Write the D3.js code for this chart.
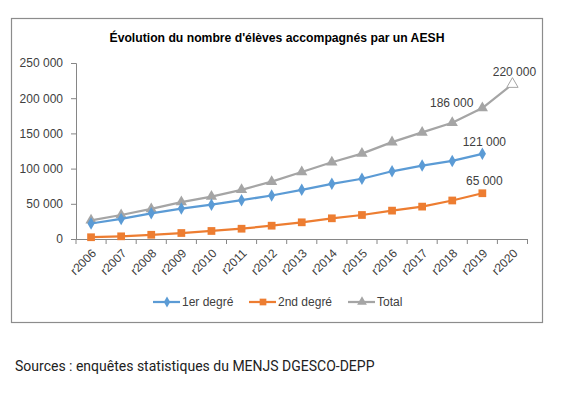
<!DOCTYPE html>
<html>
<head>
<meta charset="utf-8">
<script src="https://cdn.jsdelivr.net/npm/d3@7"></script>
<style>
  body { margin: 0; background: #fff; }
  svg text { font-family: "Liberation Sans", Arial, sans-serif; }
  svg text.source { font-family: Roboto, sans-serif; }
</style>
</head>
<body>
<svg id="chart" width="562" height="393"></svg>
<script>
// données
var years = ["r2006","r2007","r2008","r2009","r2010","r2011","r2012","r2013","r2014","r2015","r2016","r2017","r2018","r2019","r2020"];
var premier = [22000, 28500, 36500, 43300, 48700, 55100, 61800, 69900, 78400, 85600, 96200, 104300, 110900, 121000, null];
var second = [2500, 3800, 6000, 8500, 11400, 14600, 18900, 23700, 29400, 34100, 40300, 46000, 54700, 65000, null];
var total = [26500, 34100, 42700, 52500, 60200, 69900, 81400, 95200, 109000, 121300, 137600, 151400, 165200, 186000, 220000];
var yTicks = [0, 50000, 100000, 150000, 200000, 250000];

var series = [
  {name: "1er degré", values: premier, color: "#5b9bd5", shape: d3.symbolDiamond, size: 45},
  {name: "2nd degré", values: second, color: "#ed7d31", shape: d3.symbolSquare, size: 60},
  {name: "Total", values: total, color: "#a5a5a5", shape: d3.symbolTriangle, size: 55}
];

// étiquettes affichées (index, position)
var labels = [
  {s: 0, i: 13, pos: "above"},
  {s: 1, i: 13, pos: "above"},
  {s: 2, i: 13, pos: "left"},
  {s: 2, i: 14, pos: "above"}
];

var fmt = function(v){ return d3.format(",")(v).replace(/,/g, " "); };

var svg = d3.select("#chart");

svg.append("rect")
  .attr("x", 11.5).attr("y", 18.5)
  .attr("width", 531).attr("height", 304)
  .attr("fill", "#fff").attr("stroke", "#8c8c8c").attr("stroke-width", 1.2);

svg.append("text")
  .attr("x", 277).attr("y", 42)
  .attr("text-anchor", "middle")
  .attr("font-weight", "bold")
  .attr("font-size", 12.2)
  .attr("fill", "#000")
  .text("Évolution du nombre d'élèves accompagnés par un AESH");

var x = d3.scaleBand().domain(years).range([76, 527.5]);
var y = d3.scaleLinear().domain([0, 250000]).range([239, 63]);

// axe Y
var yAxis = svg.append("g")
  .attr("transform", "translate(76,0)")
  .call(d3.axisLeft(y).tickValues(yTicks).tickFormat(fmt).tickSize(5).tickPadding(8));
yAxis.select(".domain").attr("stroke", "#868686");
yAxis.selectAll(".tick line").attr("stroke", "#868686");
yAxis.selectAll(".tick text").attr("font-size", 12).attr("fill", "#404040");

// axe X
var xAxis = svg.append("g")
  .attr("transform", "translate(0,239)")
  .call(d3.axisBottom(x).tickSize(0).tickFormat(""));
xAxis.select(".domain").attr("stroke", "#868686");
xAxis.selectAll(".tick").remove();
xAxis.selectAll("line.sep")
  .data(d3.range(years.length + 1))
  .enter().append("line")
  .attr("x1", function(d){ return x.range()[0] + d * x.bandwidth(); })
  .attr("x2", function(d){ return x.range()[0] + d * x.bandwidth(); })
  .attr("y1", 0).attr("y2", 5)
  .attr("stroke", "#868686");

svg.append("g").selectAll("text")
  .data(years)
  .enter().append("text")
  .attr("transform", function(d){
    return "translate(" + (x(d) + x.bandwidth() / 2 + 3) + ",251) rotate(-45)";
  })
  .attr("text-anchor", "end")
  .attr("dy", "0.35em")
  .attr("font-size", 12)
  .attr("fill", "#404040")
  .text(function(d){ return d; });

var cx = function(i){ return x(years[i]) + x.bandwidth() / 2; };

var line = d3.line()
  .defined(function(d){ return d != null; })
  .x(function(d, i){ return cx(i); })
  .y(function(d){ return y(d); });

series.slice().reverse().forEach(function(s){
  svg.append("path")
    .datum(s.values)
    .attr("fill", "none")
    .attr("stroke", s.color)
    .attr("stroke-width", 2.25)
    .attr("stroke-linejoin", "round")
    .attr("d", line);

  svg.append("g").selectAll("path")
    .data(s.values.map(function(v, i){ return {v: v, i: i}; }).filter(function(d){ return d.v != null; }))
    .enter().append("path")
    .attr("transform", function(d){ return "translate(" + cx(d.i) + "," + y(d.v) + ")"; })
    .attr("d", d3.symbol().type(s.shape).size(s.size))
    .attr("fill", function(d){ return (s.name === "Total" && d.i === 14) ? "#fff" : s.color; })
    .attr("stroke", s.color)
    .attr("stroke-width", function(d){ return (s.name === "Total" && d.i === 14) ? 1 : 0; });
});

// étiquettes de données
svg.append("g").selectAll("text")
  .data(labels)
  .enter().append("text")
  .attr("x", function(d){ return d.pos === "left" ? cx(d.i) - 9 : cx(d.i) + 2; })
  .attr("y", function(d){
    var v = series[d.s].values[d.i];
    return d.pos === "left" ? y(v) - 1 : y(v) - 8;
  })
  .attr("text-anchor", function(d){ return d.pos === "left" ? "end" : "middle"; })
  .attr("font-size", 12)
  .attr("fill", "#404040")
  .text(function(d){ return fmt(series[d.s].values[d.i]); });

// légende
var legendX = [153, 249, 348];
var leg = svg.append("g").selectAll("g")
  .data(series)
  .enter().append("g")
  .attr("transform", function(d, i){ return "translate(" + legendX[i] + ",302)"; });
leg.append("line")
  .attr("x1", 0).attr("x2", 27).attr("y1", 0).attr("y2", 0)
  .attr("stroke", function(d){ return d.color; })
  .attr("stroke-width", 2.25);
leg.append("path")
  .attr("transform", "translate(14,0)")
  .attr("d", function(d){ return d3.symbol().type(d.shape).size(d.size * 0.75)(); })
  .attr("fill", function(d){ return d.color; });
leg.append("text")
  .attr("x", 29).attr("dy", "0.35em")
  .attr("font-size", 12)
  .attr("fill", "#404040")
  .text(function(d){ return d.name; });

svg.append("text")
  .attr("class", "source")
  .attr("x", 15).attr("y", 371)
  .attr("font-size", 14)
  .attr("fill", "#222")
  .text("Sources : enquêtes statistiques du MENJS DGESCO-DEPP");
</script>
</body>
</html>
